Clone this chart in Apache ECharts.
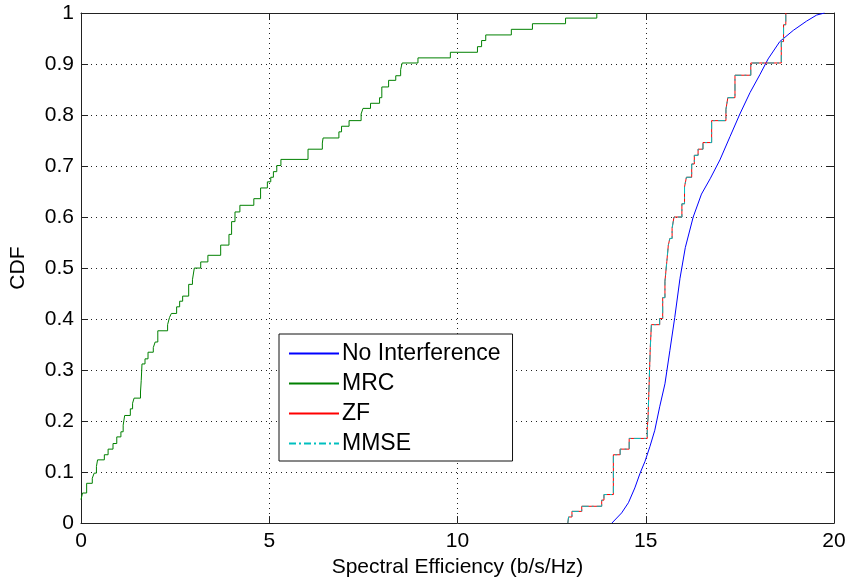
<!DOCTYPE html>
<html>
<head>
<meta charset="utf-8">
<script src="https://cdn.jsdelivr.net/npm/echarts@6/dist/echarts.min.js"></script>
<style>
html,body{margin:0;padding:0;background:#fff;}
#chart{width:850px;height:583px;}
</style>
</head>
<body>
<div id="chart"></div>
<script>
// ---- Data ----
var seriesNames = ['No Interference', 'MRC', 'ZF', 'MMSE'];
var xTicks = [0, 5, 10, 15, 20];
var yTicks = [0, 0.1, 0.2, 0.3, 0.4, 0.5, 0.6, 0.7, 0.8, 0.9, 1];

var noInterference = [
  [14.10,0.0],[14.36,0.02],[14.54,0.04],[14.71,0.069],[14.85,0.098],[14.98,0.121],
  [15.11,0.150],[15.24,0.182],[15.37,0.228],[15.51,0.273],[15.64,0.338],[15.77,0.403],
  [15.91,0.480],[16.05,0.540],[16.26,0.600],[16.48,0.645],[16.71,0.675],[16.97,0.712],
  [17.24,0.758],[17.50,0.802],[17.77,0.844],[18.03,0.879],[18.25,0.910],[18.56,0.944],
  [18.92,0.966],[19.27,0.984],[19.54,0.996],[19.75,1.0]
];

var mrc = [
  [0,0.046],[0.04,0.059],[0.15,0.078],[0.30,0.088],[0.35,0.098],[0.41,0.111],[0.44,0.124],
  [0.62,0.134],[0.72,0.145],[0.85,0.156],[0.95,0.169],[1.06,0.179],[1.12,0.192],[1.16,0.211],
  [1.31,0.224],[1.37,0.235],[1.41,0.245],[1.58,0.257],[1.60,0.28],[1.62,0.312],[1.70,0.322],
  [1.78,0.335],[1.92,0.344],[1.97,0.355],[2.04,0.377],[2.30,0.389],[2.35,0.403],[2.40,0.411],
  [2.54,0.424],[2.62,0.435],[2.70,0.445],[2.86,0.468],[2.96,0.477],[3.01,0.50],[3.18,0.512],
  [3.37,0.525],[3.71,0.545],[3.93,0.566],[4.00,0.591],[4.09,0.610],[4.22,0.623],[4.59,0.636],
  [4.77,0.657],[4.95,0.669],[5.04,0.678],[5.11,0.689],[5.20,0.701],[5.31,0.713],[6.03,0.733],
  [6.41,0.745],[6.43,0.755],[6.85,0.767],[6.92,0.778],[7.12,0.789],[7.44,0.802],[7.49,0.813],
  [7.69,0.823],[7.93,0.834],[7.99,0.855],[8.17,0.868],[8.36,0.877],[8.49,0.889],[8.53,0.902],
  [8.95,0.912],[9.81,0.923],[10.53,0.934],[10.64,0.946],[10.75,0.957],[11.43,0.968],
  [11.99,0.979],[12.87,0.990],[13.70,1.0]
];

var zf = [
  [12.93,0.0],[12.95,0.012],[13.04,0.023],[13.30,0.033],[13.83,0.045],[13.89,0.056],
  [14.14,0.134],[14.32,0.145],[14.56,0.166],[15.04,0.186],[15.06,0.205],[15.09,0.273],
  [15.12,0.344],[15.15,0.389],[15.37,0.401],[15.45,0.442],[15.51,0.474],[15.56,0.513],
  [15.60,0.545],[15.64,0.558],[15.70,0.578],[15.75,0.600],[15.96,0.626],[16.03,0.659],
  [16.08,0.678],[16.22,0.704],[16.29,0.721],[16.39,0.733],[16.52,0.746],[16.75,0.789],
  [17.13,0.811],[17.18,0.834],[17.37,0.878],[17.79,0.902],[18.60,0.944],[18.66,0.977],
  [18.72,1.0]
];

var mmse = [
  [12.93,0.0],[12.95,0.012],[13.04,0.023],[13.30,0.033],[13.83,0.045],[13.89,0.056],
  [14.14,0.134],[14.32,0.145],[14.56,0.166],[15.04,0.186],[15.06,0.205],[15.09,0.273],
  [15.12,0.344],[15.15,0.389],[15.37,0.401],[15.45,0.442],[15.51,0.474],[15.56,0.513],
  [15.60,0.545],[15.64,0.558],[15.70,0.578],[15.75,0.600],[15.96,0.626],[16.03,0.659],
  [16.08,0.678],[16.22,0.704],[16.29,0.721],[16.39,0.733],[16.52,0.746],[16.75,0.789],
  [17.13,0.811],[17.18,0.834],[17.37,0.878],[17.79,0.902],[18.60,0.944],[18.66,0.977],
  [18.72,1.0]
];

// ---- Chart ----
var FONT = "'Liberation Sans', Arial, sans-serif";
var chart = echarts.init(document.getElementById('chart'), null, {renderer: 'canvas'});

var gridLine = {show: true, lineStyle: {color: '#222', width: 1, type: [1, 4]}};
var axisLine = {show: true, onZero: false, lineStyle: {color: '#222', width: 1}};
var tick = {show: true, inside: true, length: 7, lineStyle: {color: '#222'}};

chart.setOption({
  animation: false,
  backgroundColor: '#fff',
  grid: {left: 81, right: 16, top: 13, bottom: 56, containLabel: false},
  xAxis: [{
    type: 'value', min: 0, max: 20, interval: 5, position: 'bottom',
    name: 'Spectral Efficiency (b/s/Hz)', nameLocation: 'middle', nameGap: 28,
    nameTextStyle: {fontFamily: FONT, fontSize: 21, color: '#000'},
    axisLine: axisLine, axisTick: tick, splitLine: gridLine,
    axisLabel: {fontFamily: FONT, fontSize: 21, color: '#000', margin: 8,
      formatter: function (v) { return xTicks.indexOf(v) >= 0 ? String(v) : ''; }}
  }, {
    type: 'value', min: 0, max: 20, interval: 5, position: 'top',
    axisLine: axisLine, axisTick: tick, splitLine: {show: false}, axisLabel: {show: false}
  }],
  yAxis: [{
    type: 'value', min: 0, max: 1, interval: 0.1, position: 'left',
    name: 'CDF', nameLocation: 'middle', nameGap: 52, nameRotate: 90,
    nameTextStyle: {fontFamily: FONT, fontSize: 21, color: '#000'},
    axisLine: axisLine, axisTick: tick, splitLine: gridLine,
    axisLabel: {fontFamily: FONT, fontSize: 21, color: '#000', margin: 7,
      formatter: function (v) {
        var r = Math.round(v * 10) / 10;
        return yTicks.indexOf(r) >= 0 ? String(r) : '';
      }}
  }, {
    type: 'value', min: 0, max: 1, interval: 0.1, position: 'right',
    axisLine: axisLine, axisTick: tick, splitLine: {show: false}, axisLabel: {show: false}
  }],
  legend: {
    orient: 'vertical', left: 279, top: 334,
    backgroundColor: '#fff', borderColor: '#111', borderWidth: 1,
    padding: [8, 12, 6, 9], itemGap: 7, itemWidth: 50, itemHeight: 14,
    itemStyle: {opacity: 0},
    textStyle: {fontFamily: FONT, fontSize: 23, lineHeight: 22, color: '#000', padding: [0, 0, 0, -2]},
    data: seriesNames.map(function (n) { return {name: n}; })
  },
  series: [{
    name: seriesNames[0], type: 'line', data: noInterference, showSymbol: false, symbol: 'none',
    lineStyle: {color: '#0000ff', width: 1}, itemStyle: {color: '#0000ff'}, z: 2
  }, {
    name: seriesNames[1], type: 'line', step: 'end', data: mrc, showSymbol: false, symbol: 'none',
    lineStyle: {color: '#008000', width: 1}, itemStyle: {color: '#008000'}, z: 3
  }, {
    name: seriesNames[2], type: 'line', step: 'end', data: zf, showSymbol: false, symbol: 'none',
    lineStyle: {color: '#ff0000', width: 1}, itemStyle: {color: '#ff0000'}, z: 4
  }, {
    name: seriesNames[3], type: 'line', step: 'end', data: mmse, showSymbol: false, symbol: 'none',
    lineStyle: {color: '#00bfbf', width: 1, type: [7, 3, 2, 3]}, itemStyle: {color: '#00bfbf'}, z: 5
  }]
});
</script>
</body>
</html>
